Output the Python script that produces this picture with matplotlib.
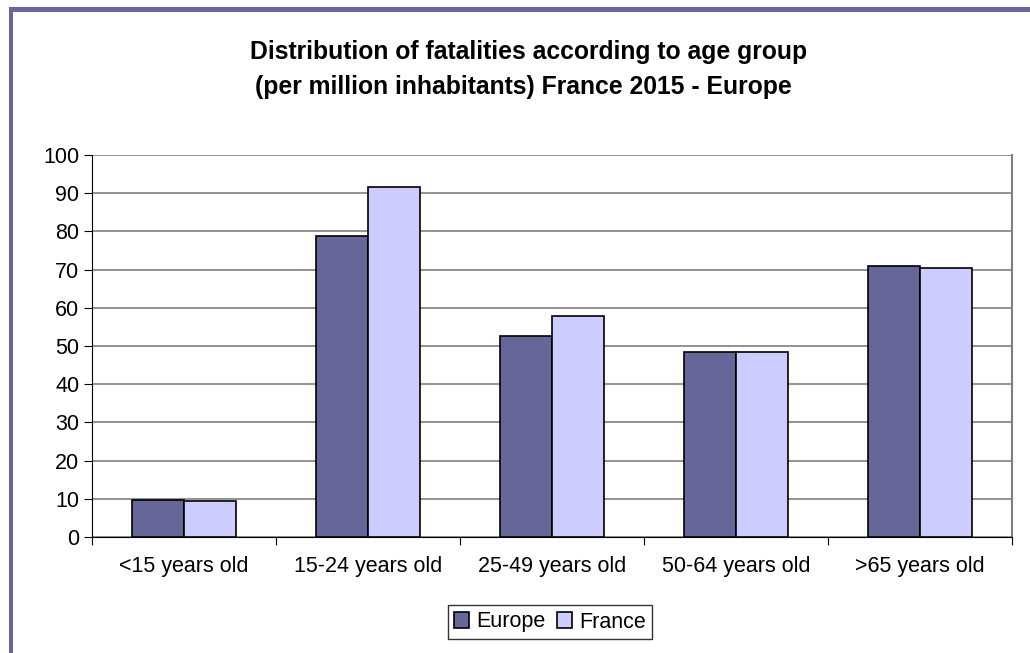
import matplotlib
matplotlib.use("Agg")
import matplotlib.pyplot as plt
import numpy as np
from matplotlib.patches import Rectangle

categories = ["<15 years old", "15-24 years old", "25-49 years old", "50-64 years old", ">65 years old"]
europe = [9.8, 78.9, 52.5, 48.5, 70.9]
france = [9.4, 91.5, 57.9, 48.5, 70.4]
yticks = list(range(0, 101, 10))

plt.rcParams["font.family"] = ["Liberation Sans", "DejaVu Sans"]

W, H = 1030, 653
fig = plt.figure(figsize=(W / 100, H / 100), dpi=100)

# purple frame along the top and left edges
fig.patches.append(Rectangle((9 / W, 0), 4 / W, 1 - 9 / H, transform=fig.transFigure,
                             facecolor="#666699", edgecolor="none"))
fig.patches.append(Rectangle((9 / W, 1 - 12 / H), 1 - 9 / W, 5 / H, transform=fig.transFigure,
                             facecolor="#666699", edgecolor="none"))

left, right, top, bottom = 92, 1012, 155, 537
ax = fig.add_axes([left / W, 1 - bottom / H, (right - left) / W, (bottom - top) / H])

x = np.arange(len(categories))
bw = 0.285
ax.bar(x - bw / 2, europe, bw, color="#666699", edgecolor="black", linewidth=1.2, label="Europe", zorder=3)
ax.bar(x + bw / 2, france, bw, color="#CCCCFF", edgecolor="black", linewidth=1.2, label="France", zorder=3)

ax.set_xlim(-0.5, len(categories) - 0.5)
ax.set_ylim(0, 100)
ax.set_yticks(yticks)
ax.yaxis.grid(True, color="#808080", linewidth=1.2, zorder=0)
ax.set_axisbelow(True)

ax.set_xticks(np.arange(len(categories) + 1) - 0.5, minor=False)
ax.set_xticklabels([])
ax.set_xticks(x, minor=True)
ax.set_xticklabels(categories, minor=True, fontsize=15.5)
ax.tick_params(axis="x", which="minor", length=0, pad=14)
ax.tick_params(axis="x", which="major", length=6, direction="out", color="black")
ax.tick_params(axis="y", length=6, direction="out", labelsize=15.5, pad=3)

ax.spines["top"].set_visible(False)
ax.spines["right"].set_color("#808080")
ax.spines["right"].set_linewidth(1.5)
ax.spines["left"].set_color("black")
ax.spines["bottom"].set_color("black")

fig.text(529 / W, 1 - 52 / H, "Distribution of fatalities according to age group",
         ha="center", va="center", fontsize=17.8, fontweight="bold")
fig.text(523 / W, 1 - 87 / H, "(per million inhabitants) France 2015 - Europe",
         ha="center", va="center", fontsize=17.8, fontweight="bold")

leg = fig.legend(loc="center", bbox_to_anchor=(550 / W, 1 - 622 / H), ncol=2, fontsize=15.5,
                 frameon=True, fancybox=False, edgecolor="black", handlelength=0.7,
                 handleheight=0.7, handletextpad=0.35, columnspacing=0.5, borderpad=0.3)
leg.get_frame().set_linewidth(1.0)

fig.savefig("out.png", dpi=100)
